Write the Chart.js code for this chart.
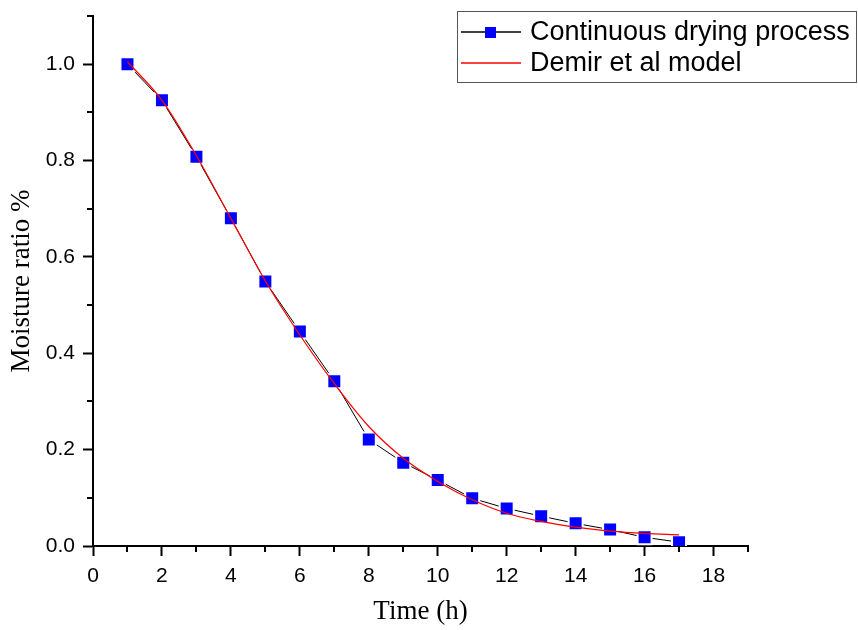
<!DOCTYPE html>
<html>
<head>
<meta charset="utf-8">
<script src="https://cdn.jsdelivr.net/npm/chart.js@4.4.1/dist/chart.umd.min.js"></script>
<style>
  html, body { margin: 0; padding: 0; background: #fff; }
  canvas { display: block; }
</style>
</head>
<body>
<canvas id="dryChart" width="858" height="630"></canvas>
<script>
// data
const timeH = [1, 2, 3, 4, 5, 6, 7, 8, 9, 10, 11, 12, 13, 14, 15, 16, 17];
const moistureMeasured = [1.0, 0.925, 0.808, 0.68, 0.549, 0.445, 0.342, 0.221, 0.173, 0.137, 0.099, 0.078, 0.062, 0.047, 0.034, 0.018, 0.008];
const moistureModel = [1.005, 0.925, 0.81, 0.68, 0.55, 0.438, 0.337, 0.248, 0.182, 0.134, 0.096, 0.068, 0.051, 0.039, 0.031, 0.026, 0.023];
const xTicks = [0, 2, 4, 6, 8, 10, 12, 14, 16, 18];
const yTicks = [0, 0.2, 0.4, 0.6, 0.8, 1.0];
const xMinorTicks = [1, 3, 5, 7, 9, 11, 13, 15, 17, 19];
const yMinorTicks = [0.1, 0.3, 0.5, 0.7, 0.9, 1.1];

const SANS = 'Arial, "Liberation Sans", sans-serif';
const SERIF = '"Times New Roman", "Liberation Serif", serif';

// minor ticks + boxed legend like the Origin plot
const extras = {
  id: 'extras',
  afterDraw(chart) {
    const c = chart.ctx;
    const xs = chart.scales.x, ys = chart.scales.y;
    const area = chart.chartArea;
    c.save();
    c.strokeStyle = '#000';
    c.lineWidth = 2;
    c.beginPath();
    xMinorTicks.forEach(v => {
      const px = Math.round(xs.getPixelForValue(v));
      c.moveTo(px, area.bottom);
      c.lineTo(px, area.bottom + 6);
    });
    yMinorTicks.forEach(v => {
      const py = Math.round(ys.getPixelForValue(v));
      c.moveTo(area.left, py);
      c.lineTo(area.left - 6, py);
    });
    c.stroke();

    // legend box
    const ds = chart.data.datasets;
    c.lineWidth = 1;
    c.strokeStyle = '#555';
    c.strokeRect(457.5, 11.5, 399, 71);
    c.font = '27px ' + SANS;
    c.textBaseline = 'middle';
    const rows = [32, 63];
    ds.forEach((d, i) => {
      const y = rows[i];
      c.strokeStyle = d.borderColor;
      c.lineWidth = 1.3;
      c.beginPath();
      c.moveTo(461, y);
      c.lineTo(521, y);
      c.stroke();
      if (d.pointRadius > 0) {
        c.fillStyle = d.pointBackgroundColor;
        c.fillRect(485, y - 5, 11, 11);
      }
      c.fillStyle = '#000';
      c.fillText(d.label, 530, y + 1);
    });
    c.restore();
  }
};

new Chart(document.getElementById('dryChart'), {
  type: 'line',
  data: {
    datasets: [
      {
        label: 'Continuous drying process',
        data: timeH.map((t, i) => ({ x: t, y: moistureMeasured[i] })),
        borderColor: '#000000',
        borderWidth: 1,
        tension: 0,
        pointStyle: 'rect',
        pointRadius: 9.9,
        pointBackgroundColor: '#0000ff',
        pointBorderColor: '#fff',
        pointBorderWidth: 2,
        order: 1
      },
      {
        label: 'Demir et al model',
        data: timeH.map((t, i) => ({ x: t, y: moistureModel[i] })),
        borderColor: '#ff0000',
        borderWidth: 1.2,
        cubicInterpolationMode: 'monotone',
        pointRadius: 0,
        order: 0
      }
    ]
  },
  options: {
    responsive: false,
    animation: false,
    devicePixelRatio: 1,
    layout: { padding: { top: 16, right: 110, left: 0, bottom: 0 } },
    plugins: { legend: { display: false }, tooltip: { enabled: false } },
    scales: {
      x: {
        type: 'linear',
        min: 0,
        max: 19,
        afterBuildTicks: s => { s.ticks = xTicks.map(v => ({ value: v })); },
        afterFit: s => { s.height = 84; s.paddingLeft = 0; s.paddingRight = 0; },
        ticks: { color: '#000', padding: 8, maxRotation: 0, autoSkip: false, font: { family: SANS, size: 21 } },
        grid: { drawOnChartArea: false, drawTicks: true, tickLength: 10, tickWidth: 2, tickColor: '#000' },
        border: { display: true, color: '#000', width: 2 },
        title: { display: true, text: 'Time (h)', color: '#000', font: { family: SERIF, size: 27 }, padding: { top: 0, bottom: 2 } }
      },
      y: {
        type: 'linear',
        min: 0,
        max: 1.1,
        afterBuildTicks: s => { s.ticks = yTicks.map(v => ({ value: v })); },
        afterFit: s => { s.width = 93; s.paddingTop = 0; s.paddingBottom = 0; },
        ticks: { color: '#000', padding: 8, autoSkip: false, callback: v => v.toFixed(1), font: { family: SANS, size: 21 } },
        grid: { drawOnChartArea: false, drawTicks: true, tickLength: 10, tickWidth: 2, tickColor: '#000' },
        border: { display: true, color: '#000', width: 2 },
        title: { display: true, text: 'Moisture ratio %', color: '#000', font: { family: SERIF, size: 27 }, padding: { top: 6, bottom: 0 } }
      }
    }
  },
  plugins: [extras]
});
</script>
</body>
</html>
